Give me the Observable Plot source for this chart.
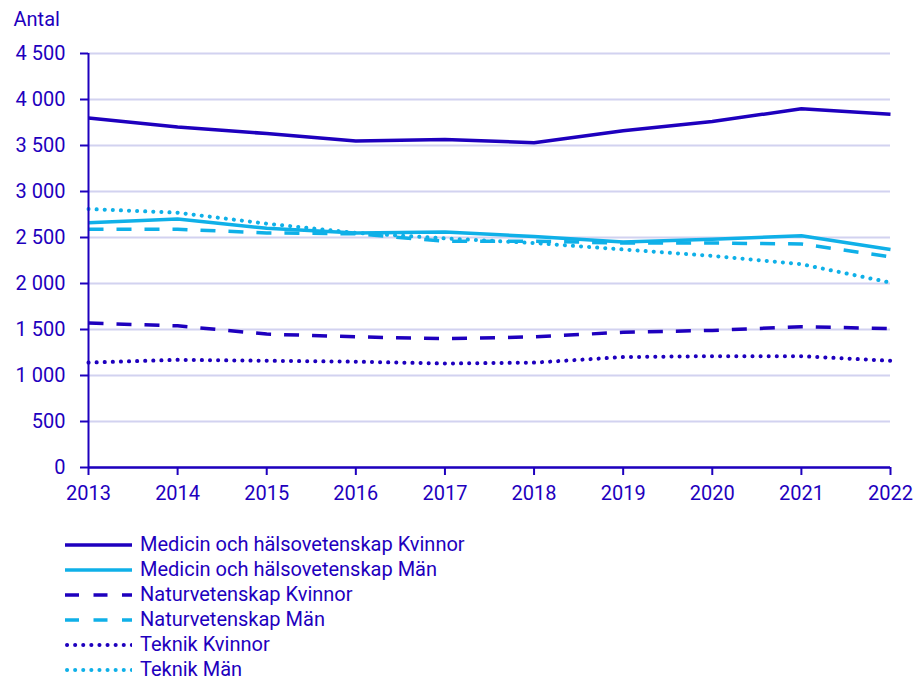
<!DOCTYPE html>
<html>
<head>
<meta charset="utf-8">
<script src="https://cdn.jsdelivr.net/npm/d3@7"></script>
<script src="https://cdn.jsdelivr.net/npm/@observablehq/plot@0.6"></script>
<style>
  html, body { margin: 0; padding: 0; background: #fff; }
  body { width: 919px; height: 681px; overflow: hidden; font-family: Roboto, sans-serif; color: #1e00be; }
  #chart svg { display: block; }
  #legend { margin-left: 65px; margin-top: 17px; }
  .row { display: flex; align-items: center; height: 25px; font-size: 20px; line-height: 25px; }
  .row svg { margin-right: 8px; display: block; }
</style>
</head>
<body>
<div id="chart"></div>
<div id="legend"></div>
<script>
const years = [2013, 2014, 2015, 2016, 2017, 2018, 2019, 2020, 2021, 2022];
const seriesNames = [
  "Medicin och hälsovetenskap Kvinnor",
  "Medicin och hälsovetenskap Män",
  "Naturvetenskap Kvinnor",
  "Naturvetenskap Män",
  "Teknik Kvinnor",
  "Teknik Män"
];
const medicinKvinnor = [3800, 3700, 3630, 3550, 3565, 3530, 3660, 3760, 3900, 3840];
const medicinMan     = [2660, 2700, 2600, 2550, 2560, 2510, 2450, 2480, 2520, 2370];
const naturKvinnor   = [1570, 1540, 1450, 1420, 1400, 1420, 1470, 1490, 1530, 1510];
const naturMan       = [2590, 2590, 2550, 2540, 2460, 2460, 2440, 2440, 2430, 2290];
const teknikKvinnor  = [1140, 1170, 1160, 1150, 1130, 1140, 1200, 1210, 1210, 1160];
const teknikMan      = [2810, 2770, 2650, 2550, 2490, 2440, 2370, 2300, 2210, 2010];
const yTicks = [0, 500, 1000, 1500, 2000, 2500, 3000, 3500, 4000, 4500];

const dark = "#1e00be";
const light = "#0fb0e8";
const styles = [
  {stroke: dark, dash: null},
  {stroke: light, dash: null},
  {stroke: dark, dash: "15,13"},
  {stroke: light, dash: "15,13"},
  {stroke: dark, dash: "0.1,8"},
  {stroke: light, dash: "0.1,8"}
];
const values = [medicinKvinnor, medicinMan, naturKvinnor, naturMan, teknikKvinnor, teknikMan];

const fmt = d3.formatLocale({thousands: "\u00a0", grouping: [3], decimal: ","}).format(",");
const isDotted = s => s.dash && s.dash.startsWith("0.1");

const lineMarks = values.map((vals, i) => {
  const data = years.map((y, j) => ({year: y, value: vals[j]}));
  return Plot.line(data, {
    x: "year", y: "value",
    stroke: styles[i].stroke,
    strokeWidth: isDotted(styles[i]) ? 4 : 3.5,
    strokeDasharray: styles[i].dash || undefined,
    strokeLinecap: isDotted(styles[i]) ? "round" : "butt",
    strokeLinejoin: "round"
  });
});

const chart = Plot.plot({
  width: 919,
  height: 515,
  marginLeft: 88,
  marginRight: 29,
  marginTop: 53,
  marginBottom: 48,
  style: {fontFamily: "Roboto, sans-serif", fontSize: "20px", color: dark, background: "#fff"},
  x: {domain: [2013, 2022], ticks: years, tickFormat: d => String(d)},
  y: {domain: [0, 4500], ticks: yTicks, tickFormat: fmt},
  marks: [
    Plot.gridY(yTicks, {stroke: "#d2d2f0", strokeOpacity: 1, strokeWidth: 2}),
    ...lineMarks,
    Plot.ruleX([2013], {y1: 0, y2: 4500, stroke: dark, strokeWidth: 2}),
    Plot.ruleY([0], {stroke: dark, strokeWidth: 2.5}),
    Plot.axisY(yTicks, {tickSize: 8, tickPadding: 15, tickFormat: fmt, label: null, stroke: dark, strokeWidth: 2, fill: dark, fontSize: 20}),
    Plot.axisX(years, {tickSize: 8, tickPadding: 10, tickFormat: d => String(d), label: null, stroke: dark, strokeWidth: 2, fill: dark, fontSize: 20}),
    Plot.text(["Antal"], {frameAnchor: "top-left", dx: -75, dy: -42, text: d => d, textAnchor: "start", fill: dark, fontSize: 20})
  ]
});
document.getElementById("chart").appendChild(chart);

const legend = document.getElementById("legend");
seriesNames.forEach((name, i) => {
  const row = document.createElement("div");
  row.className = "row";
  const s = styles[i];
  const dotted = isDotted(s);
  row.innerHTML = `<svg width="67" height="10"><line x1="${dotted ? 2 : 0}" y1="5" x2="67" y2="5" stroke="${s.stroke}" stroke-width="${dotted ? 4 : 3.5}" ${s.dash ? `stroke-dasharray="${dotted ? '0.1,8' : '14,14.5'}"` : ""} stroke-linecap="${dotted ? 'round' : 'butt'}"/></svg><span>${name}</span>`;
  legend.appendChild(row);
});
</script>
</body>
</html>
